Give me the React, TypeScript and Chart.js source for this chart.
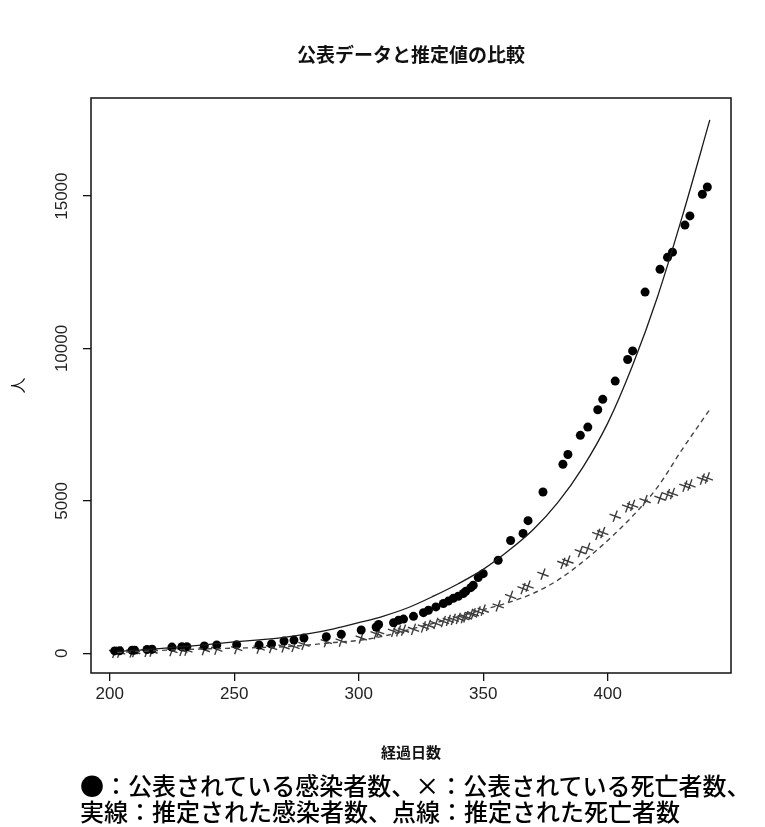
import { useEffect, useRef } from "react"
import { Chart, registerables } from "chart.js"

Chart.register(...registerables)

const titleText = "公表データと推定値の比較"
const xTitle = "経過日数"
const yTitle = "人"

const dayTicks = [200, 250, 300, 350, 400]
const valueTicks = [0, 5000, 10000, 15000]

// 公表値（●：感染者数、×：死亡者数）
const reportDays = [
  202, 204, 209, 210, 215, 217, 225, 229, 231, 238, 243, 251, 260, 265, 270, 274, 278, 287, 293, 301,
  307, 308, 314, 316, 318, 322, 326, 328, 331, 334, 336, 338, 340, 342, 343, 345, 346, 348, 350, 356,
  361, 366, 368, 374, 382, 384, 389, 392, 396, 398, 403, 408, 410, 415, 421, 424, 426, 431, 433, 438, 440,
]
const infected = [
  75, 80, 95, 100, 120, 130, 200, 210, 215, 240, 270, 280, 270, 300, 400, 430, 500, 540, 620, 760,
  860, 940, 1000, 1080, 1120, 1210, 1330, 1410, 1520, 1630, 1710, 1800, 1870, 1960, 2030, 2150, 2230, 2480, 2610, 3050,
  3700, 3930, 4350, 5290, 6200, 6520, 7150, 7420, 7990, 8330, 8930, 9640, 9920, 11850, 12600, 12990, 13160, 14050, 14350, 15060, 15300,
]
const deaths = [
  30, 35, 45, 50, 60, 65, 85, 95, 100, 115, 130, 150, 170, 185, 205, 220, 290, 380, 400, 500,
  640, 700, 720, 730, 755, 785, 860, 910, 975, 1040, 1080, 1110, 1140, 1170, 1195, 1270, 1290, 1355, 1411, 1552,
  1861, 2120, 2200, 2593, 2950, 3020, 3330, 3440, 3900, 3960, 4496, 4800, 4850, 5005, 5087, 5200, 5240, 5480, 5520, 5710, 5750,
]

// 推定値（実線：感染者数、点線：死亡者数）
const fitDays = [
  203, 210, 220, 230, 240, 250, 260, 270, 280, 290, 300, 310, 320, 330, 340, 350, 360, 370, 380, 390,
  400, 410, 420, 430, 441,
]
const fitInfected = [
  60, 90, 150, 220, 290, 370, 440, 520, 640, 800, 1000, 1220, 1500, 1870, 2280, 2750, 3350, 4050, 4950, 6100,
  7550, 9450, 11700, 14350, 17500,
]
const fitDeaths = [
  20, 50, 90, 120, 145, 165, 185, 210, 270, 350, 420, 560, 770, 980, 1200, 1430, 1660, 1960, 2400, 3000,
  3700, 4500, 5450, 6700, 8000,
]

const pairs = (xs: number[], ys: number[]) => xs.map((x, i) => ({ x, y: ys[i] }))

const frame = {
  id: "frame",
  afterDraw(chart: Chart) {
    const { ctx, chartArea: a } = chart
    const cx = (a.left + a.right) / 2
    ctx.save()
    ctx.strokeStyle = "#111"
    ctx.lineWidth = 1.5
    ctx.strokeRect(a.left, a.top, a.right - a.left, a.bottom - a.top)
    ctx.fillStyle = "#111"
    ctx.textAlign = "center"
    ctx.textBaseline = "middle"
    ctx.font = 'bold 19px "Noto Sans CJK JP"'
    ctx.fillText(titleText, cx, a.top - 43)
    ctx.font = 'bold 15px "Noto Sans CJK JP"'
    ctx.fillText(xTitle, cx, a.bottom + 79)
    ctx.translate(18, (a.top + a.bottom) / 2)
    ctx.rotate(-Math.PI / 2)
    ctx.font = '16px "Noto Sans CJK JP"'
    ctx.fillText(yTitle, 0, 0)
    ctx.restore()
  },
}

export default function App() {
  const chartRef = useRef<HTMLCanvasElement>(null)

  useEffect(() => {
    if (!chartRef.current) return
    const ctx = chartRef.current.getContext("2d")
    if (!ctx) return

    Chart.defaults.font.family = '"Liberation Sans", Arial, sans-serif'

    const chart = new Chart(ctx, {
      type: "scatter",
      data: {
        datasets: [
          {
            label: "推定された感染者数",
            data: pairs(fitDays, fitInfected),
            showLine: true,
            borderColor: "#1a1a1a",
            borderWidth: 1.3,
            pointRadius: 0,
            cubicInterpolationMode: "monotone",
          },
          {
            label: "推定された死亡者数",
            data: pairs(fitDays, fitDeaths),
            showLine: true,
            borderColor: "#444",
            borderWidth: 1.4,
            borderDash: [5, 4],
            pointRadius: 0,
            cubicInterpolationMode: "monotone",
          },
          {
            label: "公表されている感染者数",
            data: pairs(reportDays, infected),
            pointStyle: "circle",
            pointRadius: 4.5,
            backgroundColor: "#000",
            borderColor: "#000",
            borderWidth: 0,
          },
          {
            label: "公表されている死亡者数",
            data: pairs(reportDays, deaths),
            pointStyle: "cross",
            rotation: 20,
            pointRadius: 6,
            borderColor: "#3c3c3c",
            borderWidth: 1.4,
          },
        ],
      },
      options: {
        responsive: false,
        animation: false,
        layout: { padding: { top: 98, right: 34, left: 0, bottom: 114 } },
        plugins: {
          legend: { display: false },
          tooltip: { enabled: false },
        },
        scales: {
          x: {
            type: "linear",
            min: 192.5,
            max: 449.5,
            afterBuildTicks: (s) => {
              s.ticks = dayTicks.map((value) => ({ value }))
            },
            afterFit: (s) => {
              s.height = 40
            },
            grid: { drawOnChartArea: false, drawTicks: true, tickLength: 8, color: "#111", lineWidth: 1.3 },
            border: { display: false },
            ticks: { color: "#222", font: { size: 17 }, padding: 3, autoSkip: false, maxRotation: 0, callback: (v) => String(v) },
          },
          y: {
            type: "linear",
            min: -650,
            max: 18220,
            afterBuildTicks: (s) => {
              s.ticks = valueTicks.map((value) => ({ value }))
            },
            afterFit: (s) => {
              s.width = 91
            },
            grid: { drawOnChartArea: false, drawTicks: true, tickLength: 8, color: "#111", lineWidth: 1.3 },
            border: { display: false },
            ticks: {
              color: "#222",
              font: { size: 17 },
              padding: -3,
              crossAlign: "center",
              minRotation: 90,
              maxRotation: 90,
              autoSkip: false,
              callback: (v) => String(v),
            },
          },
        },
      },
      plugins: [frame],
    })

    return () => {
      chart.destroy()
    }
  }, [])

  return (
    <div style={{ position: "absolute", left: 0, top: 0, width: 765, height: 827, background: "#fff" }}>
      <canvas ref={chartRef} width={765} height={827} style={{ display: "block" }}></canvas>
      <div
        style={{
          position: "absolute",
          left: 80,
          top: 772,
          fontFamily: '"Noto Sans CJK JP", sans-serif',
          fontSize: 24,
          fontWeight: 500,
          lineHeight: "26px",
          color: "#000",
          whiteSpace: "nowrap",
        }}
      >
        <div>●：公表されている感染者数、×：公表されている死亡者数、</div>
        <div>実線：推定された感染者数、点線：推定された死亡者数</div>
      </div>
    </div>
  )
}
